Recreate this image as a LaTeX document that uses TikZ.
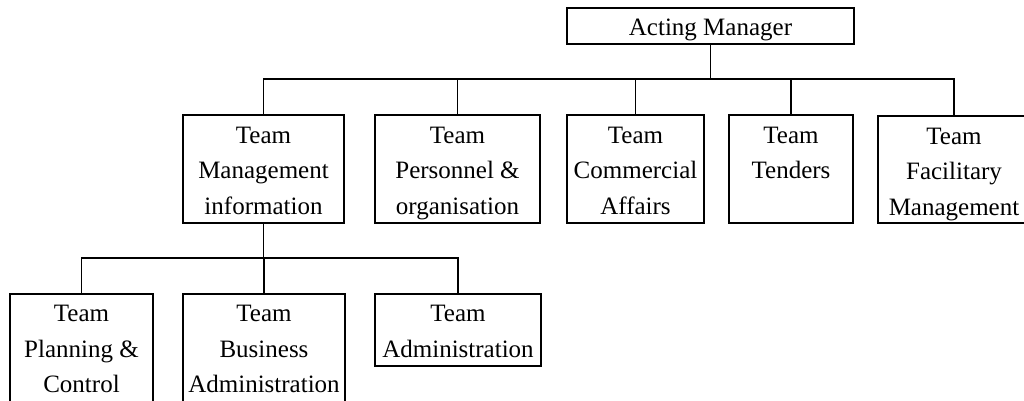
\documentclass[tikz,border=0pt]{standalone}
\usepackage{fontspec}
\setmainfont{Liberation Serif}
\begin{document}
\begin{tikzpicture}[x=1pt,y=-1pt]
\tikzset{
  unit/.style={draw=black, line width=1.2pt, inner sep=0pt, fill=white},
  boxtext/.style={inner sep=0pt, align=center, anchor=north,
                  font=\fontsize{25}{35.5}\selectfont},
  link/.style={draw=black, line width=1.2pt}
}
\useasboundingbox (0,0) rectangle (1024,400);
\fill[white] (0,0) rectangle (1024,400);
\clip (0,0) rectangle (1024,400);

% top level
\node[unit, minimum width=287pt, minimum height=36pt] (am) at (710.5,26) {};
\node[boxtext, anchor=base] (am-t) at ([yshift=-9pt]am.center) {Acting Manager};

% second level
\node[unit, minimum width=161pt, minimum height=108pt] (mi) at (263.5,169) {};
\node[unit, minimum width=165pt, minimum height=108pt] (po) at (457.5,169) {};
\node[unit, minimum width=137pt, minimum height=108pt] (ca) at (635.5,169) {};
\node[unit, minimum width=124pt, minimum height=108pt] (te) at (791,169) {};
\node[unit, minimum width=152pt, minimum height=107pt] (fm) at (954,169.5) {};

\node[boxtext] (mi-t) at ([yshift=-12.5pt]mi.north) {Team\\Management\\information};
\node[boxtext] (po-t) at ([yshift=-12.5pt]po.north) {Team\\Personnel \&\\organisation};
\node[boxtext] (ca-t) at ([yshift=-12.5pt]ca.north) {Team\\Commercial\\Affairs};
\node[boxtext] (te-t) at ([yshift=-12.5pt]te.north) {Team\\Tenders};
\node[boxtext] (fm-t) at ([yshift=-12.5pt]fm.north) {Team\\Facilitary\\Management};

% third level
\node[unit, minimum width=143pt, minimum height=108pt] (pc) at (81.5,348) {};
\node[unit, minimum width=162pt, minimum height=108pt] (ba) at (264,348) {};
\node[unit, minimum width=166pt, minimum height=72pt] (ad) at (458,330) {};

\node[boxtext] (pc-t) at ([yshift=-12pt]pc.north) {Team\\Planning \&\\Control};
\node[boxtext] (ba-t) at ([yshift=-12pt]ba.north) {Team\\Business\\Administration};
\node[boxtext] (ad-t) at ([yshift=-12pt]ad.north) {Team\\Administration};

% connectors
\coordinate (bus1) at (710,79);
\coordinate (bus2) at (264,258);
\foreach \c in {mi,po,ca,te,fm}
  \draw[link] (am.south) -- (am.south |- bus1) -| (\c.north);
\foreach \c in {pc,ba,ad}
  \draw[link] (mi.south) -- (mi.south |- bus2) -| (\c.north);
\end{tikzpicture}
\end{document}
